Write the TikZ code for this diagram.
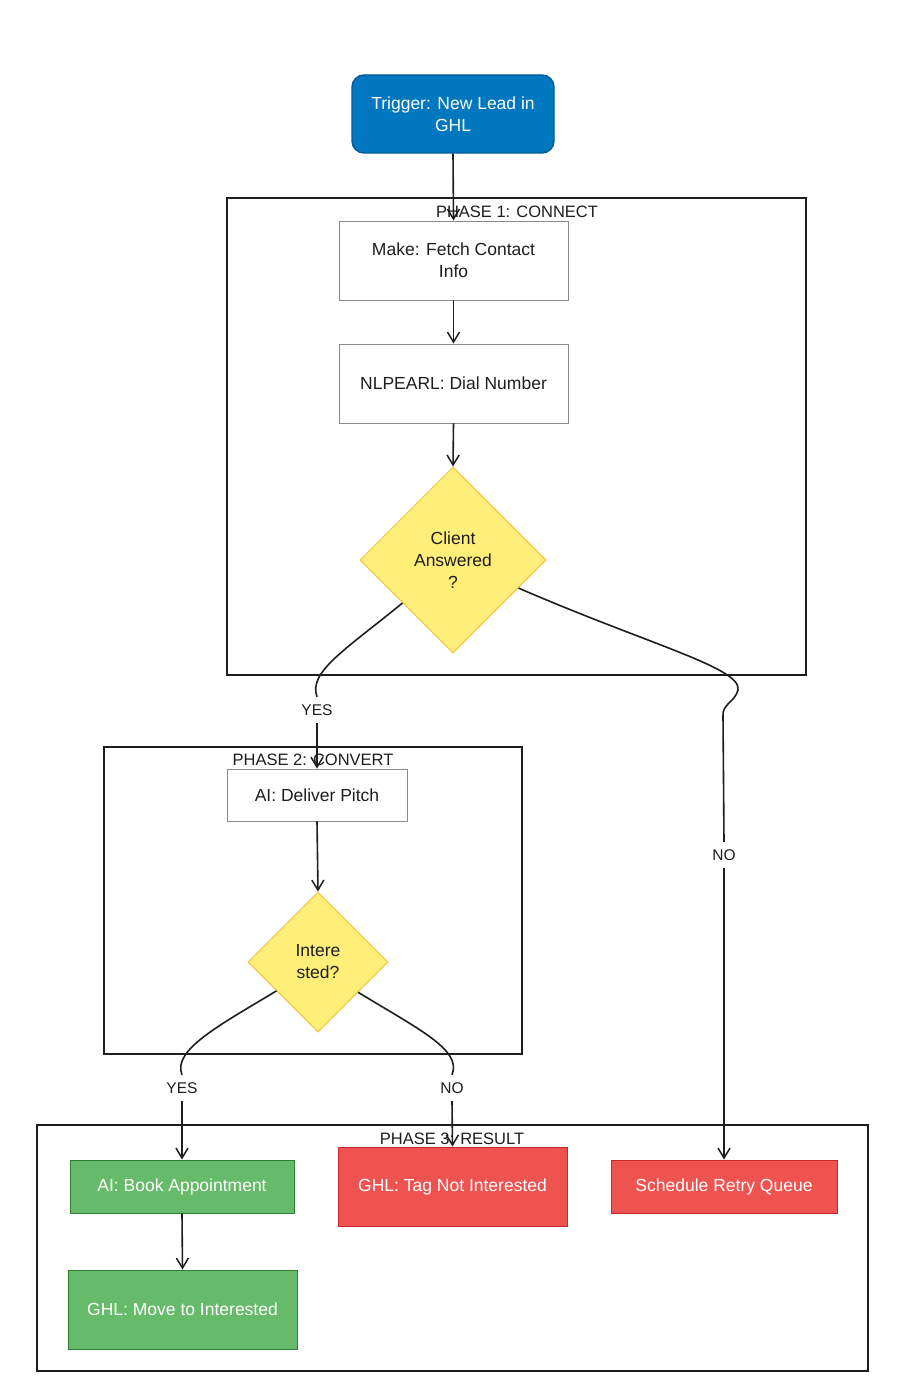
\documentclass[tikz,border=0pt]{standalone}
\usepackage{fontspec}
\setmainfont{Liberation Sans}
\usetikzlibrary{shapes.geometric,arrows.meta,calc}
\definecolor{ink}{HTML}{1E1E1E}
\definecolor{boxline}{HTML}{8A8A8A}
\definecolor{trigfill}{HTML}{0077BE}
\definecolor{trigline}{HTML}{005A9E}
\definecolor{decfill}{HTML}{FFEE77}
\definecolor{decline}{HTML}{F5C242}
\definecolor{okfill}{HTML}{66BB6A}
\definecolor{okline}{HTML}{2E7D32}
\definecolor{badfill}{HTML}{EF5350}
\definecolor{badline}{HTML}{C62828}
\tikzset{
  txt/.style={font=\fontsize{17.5}{22}\selectfont, align=center, inner sep=0pt},
  plain/.style={txt, draw=boxline, line width=0.9pt, fill=white, text=ink},
  trig/.style={txt, draw=trigline, line width=1.4pt, fill=trigfill, text=white, rounded corners=12pt},
  dec/.style={txt, diamond, draw=decline, line width=1pt, fill=decfill, text=ink},
  okbox/.style={txt, draw=okline, line width=1pt, fill=okfill, text=white},
  badbox/.style={txt, draw=badline, line width=1pt, fill=badfill, text=white},
  phase/.style={draw=ink, line width=1.4pt},
  phaselbl/.style={font=\fontsize{16.5}{18}\selectfont, text=ink, inner sep=0pt},
  lbl/.style={font=\fontsize{15.5}{18}\selectfont, text=ink, fill=white, inner sep=0pt, minimum height=26pt, minimum width=34pt},
  conn/.style={draw=ink, line width=1.6pt},
  arr/.style={conn, -{Straight Barb[length=10pt,width=12pt,line width=1.5pt]}},
}
\begin{document}
\begin{tikzpicture}[x=1pt,y=-1pt]
\useasboundingbox (0,0) rectangle (906,1399);
\fill[white] (0,0) rectangle (906,1399);

% phase frames
\draw[phase] (227,198) rectangle (806,675);
\node[phaselbl] (p1lbl) at (517,212) {PHASE 1: CONNECT};
\draw[phase] (104,747) rectangle (522,1054);
\node[phaselbl] (p2lbl) at (313,760) {PHASE 2: CONVERT};
\draw[phase] (37,1125) rectangle (868,1371);
\node[phaselbl] (p3lbl) at (452,1139) {PHASE 3: RESULT};

% nodes
\node[trig, minimum width=202pt, minimum height=78pt] (trigger) at (453,114) {Trigger: New Lead in\\GHL};
\node[plain, minimum width=229pt, minimum height=79pt] (fetch) at (453.5,260.5) {Make: Fetch Contact\\Info};
\node[plain, minimum width=229pt, minimum height=79pt] (dial) at (453.5,383.5) {NLPEARL: Dial Number};
\node[dec, minimum width=186pt, minimum height=186pt] (d1) at (453,560) {Client\\Answered\\?};
\node[plain, minimum width=180pt, minimum height=52pt] (pitch) at (317,795) {AI: Deliver Pitch};
\node[dec, minimum width=140pt, minimum height=140pt] (d2) at (318,962) {Intere\\sted?};
\node[okbox, minimum width=224pt, minimum height=53pt] (book) at (182,1186.5) {AI: Book Appointment};
\node[okbox, minimum width=229pt, minimum height=79pt] (move) at (182.5,1309.5) {GHL: Move to Interested};
\node[badbox, minimum width=229pt, minimum height=79pt] (tag) at (452.5,1186.5) {GHL: Tag Not Interested};
\node[badbox, minimum width=226pt, minimum height=53pt] (retry) at (724,1186.5) {Schedule Retry Queue};

% edge labels
\node[lbl] (yes1) at (317,710) {YES};
\node[lbl] (no1) at (724,855) {NO};
\node[lbl] (yes2) at (182,1088) {YES};
\node[lbl] (no2) at (452,1088) {NO};

% connectors
\draw[arr] (trigger.south) -- (fetch.north);
\draw[arr] (fetch.south) -- (dial.north);
\draw[arr] (dial.south) -- (d1.north);
\draw[conn] ($(d1.west)!0.46!(d1.south)$) .. controls (345,650) and (308,672) .. (yes1.north);
\draw[arr] (yes1.south) -- (pitch.north);
\draw[conn] ($(d1.east)!0.3!(d1.south)$) .. controls (650,645) and (742,668) .. (738,690)
   .. controls (735,702) and (722,704) .. (723,716) -- (no1.north);
\draw[arr] (no1.south) -- (retry.north);
\draw[arr] (pitch.south) -- (d2.north);
\draw[conn] ($(d2.west)!0.41!(d2.south)$) .. controls (220,1025) and (172,1050) .. (yes2.north);
\draw[arr] (yes2.south) -- (book.north);
\draw[conn] ($(d2.east)!0.43!(d2.south)$) .. controls (420,1030) and (462,1050) .. (no2.north);
\draw[arr] (no2.south) -- (tag.north);
\draw[arr] (book.south) -- (move.north);
\end{tikzpicture}
\end{document}
